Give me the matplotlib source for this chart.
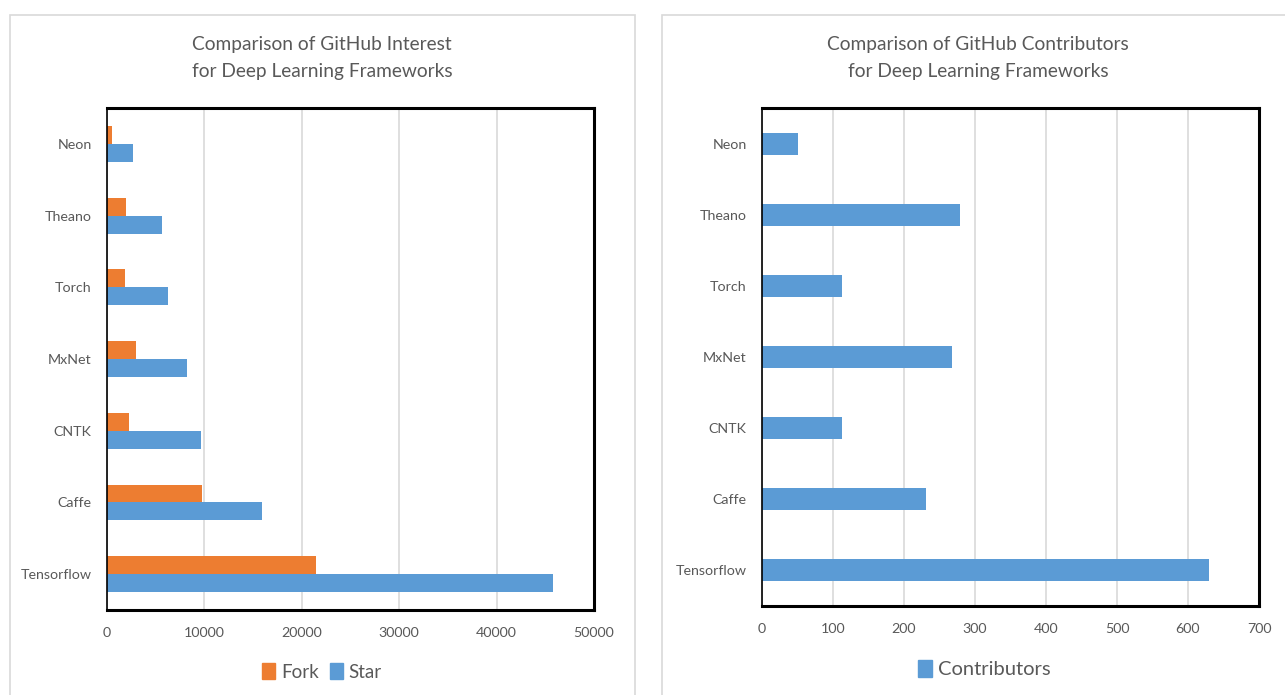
import matplotlib
matplotlib.use("Agg")
import matplotlib.pyplot as plt
from matplotlib.patches import Rectangle, Patch
import numpy as np

plt.rcParams['font.family'] = ['Lato', 'DejaVu Sans']

frameworks = ["Tensorflow", "Caffe", "CNTK", "MxNet", "Torch", "Theano", "Neon"]
forks = [21450, 9750, 2280, 3020, 1840, 1950, 550]
stars = [45770, 15940, 9610, 8210, 6300, 5630, 2690]
contributors = [630, 231, 112, 267, 112, 279, 51]

left_ticks = [0, 10000, 20000, 30000, 40000, 50000]
right_ticks = [0, 100, 200, 300, 400, 500, 600, 700]

ORANGE = "#ED7D31"
BLUE = "#5B9BD5"
TXT = "#595959"
GRID = "#D9D9D9"

W, H = 1285, 695
fig = plt.figure(figsize=(W / 100, H / 100), dpi=100)

def fr(x0, y0, x1, y1):
    return [x0 / W, 1 - y1 / H, (x1 - x0) / W, (y1 - y0) / H]

# panel borders
for (x0, y0, x1, y1) in [(10, 15, 635, 700), (662, 15, 1290, 700)]:
    fig.patches.append(Rectangle((x0 / W, 1 - y1 / H), (x1 - x0) / W, (y1 - y0) / H,
                                 transform=fig.transFigure, fill=False,
                                 edgecolor=GRID, linewidth=1.2))

def style(ax, ticks, lim):
    ax.set_xlim(0, lim)
    ax.set_xticks(ticks)
    ax.set_xticklabels([str(t) for t in ticks])
    ax.set_ylim(-0.5, len(frameworks) - 0.5)
    ax.set_yticks(np.arange(len(frameworks)))
    ax.set_yticklabels(frameworks)
    ax.tick_params(axis='both', length=0, labelsize=10.3, colors=TXT)
    ax.tick_params(axis='x', pad=12)
    ax.tick_params(axis='y', pad=11)
    ax.grid(axis='x', color=GRID, linewidth=1.2)
    ax.set_axisbelow(True)
    for s in ['top', 'right', 'bottom']:
        ax.spines[s].set_linewidth(2.2)
        ax.spines[s].set_color('black')
    ax.spines['left'].set_linewidth(1.2)
    ax.spines['left'].set_color('black')

y = np.arange(len(frameworks))

# Left chart
ax1 = fig.add_axes(fr(107, 108, 594, 610))
h = 0.25
ax1.barh(y + h / 2, forks, height=h, color=ORANGE, label="Fork")
ax1.barh(y - h / 2, stars, height=h, color=BLUE, label="Star")
style(ax1, left_ticks, 50000)
fig.text(322 / W, 1 - 58 / H, "Comparison of GitHub Interest\nfor Deep Learning Frameworks",
         ha='center', va='center', fontsize=13.8, color=TXT, linespacing=1.75)
fig.legend(handles=[Patch(color=ORANGE, label="Fork"), Patch(color=BLUE, label="Star")],
           loc='center', bbox_to_anchor=(322 / W, 1 - 672 / H), ncol=2, frameon=False,
           fontsize=13.5, handlelength=0.7, handleheight=0.9, handletextpad=0.3,
           columnspacing=0.6, labelcolor=TXT)

# Right chart
ax2 = fig.add_axes(fr(762, 108, 1259, 606))
ax2.barh(y, contributors, height=0.31, color=BLUE)
style(ax2, right_ticks, 700)
fig.text(978 / W, 1 - 58 / H, "Comparison of GitHub Contributors\nfor Deep Learning Frameworks",
         ha='center', va='center', fontsize=13.8, color=TXT, linespacing=1.75)
fig.legend(handles=[Patch(color=BLUE, label="Contributors")],
           loc='center', bbox_to_anchor=(984 / W, 1 - 669 / H), frameon=False,
           fontsize=14.5, handlelength=0.7, handleheight=0.9, handletextpad=0.3,
           labelcolor=TXT)

fig.savefig("out.png", dpi=100, facecolor='white')
